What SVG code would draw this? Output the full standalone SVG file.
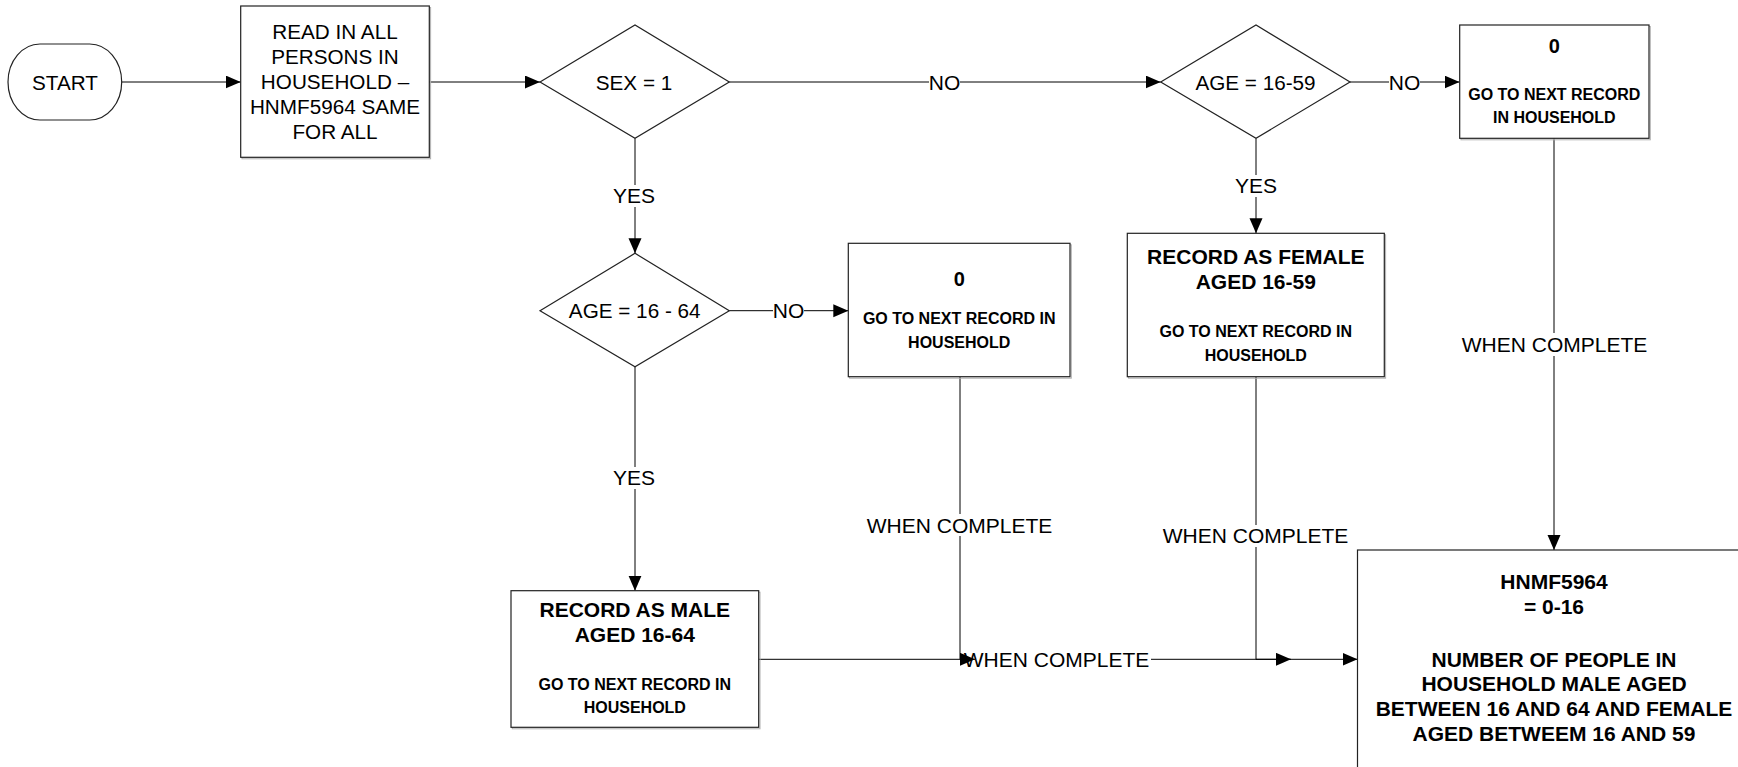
<svg xmlns="http://www.w3.org/2000/svg" width="1738" height="767" viewBox="0 0 1738 767">
<defs>
<style>
.box{fill:#fff;stroke:#222;stroke-width:1.2}
.shadow{fill:none;stroke:#b0b0b0;stroke-width:1}
.ln{fill:none;stroke:#000;stroke-width:1}
.t{font-family:"Liberation Sans",Arial,sans-serif;font-size:20.7px;fill:#000;text-anchor:middle}
.b{font-family:"Liberation Sans",Arial,sans-serif;font-weight:bold;font-size:21px;fill:#000;text-anchor:middle}
.s{font-family:"Liberation Sans",Arial,sans-serif;font-weight:bold;font-size:16px;fill:#000;text-anchor:middle}
.lbl{font-family:"Liberation Sans",Arial,sans-serif;font-size:21px;fill:#000;text-anchor:middle}
.bg{fill:#fff;stroke:none}
</style>
<marker id="arr" markerUnits="userSpaceOnUse" markerWidth="16" markerHeight="14" refX="15" refY="6.5" orient="auto">
<path d="M0,0 L15,6.5 L0,13 Z" fill="#000"/>
</marker>
</defs>
<rect width="1738" height="767" fill="#fff"/>

<g id="connectors">
<path class="ln" d="M121.7,82 H240.7" marker-end="url(#arr)"/>
<path class="ln" d="M429.3,82 H540" marker-end="url(#arr)"/>
<path class="ln" d="M729.3,82 H1160.7" marker-end="url(#arr)"/>
<rect class="bg" x="929" y="71" width="31" height="22"/>
<text class="lbl" x="944.5" y="89.5">NO</text>
<path class="ln" d="M1350,82 H1459.5" marker-end="url(#arr)"/>
<rect class="bg" x="1389" y="71" width="31" height="22"/>
<text class="lbl" x="1404.5" y="89.5">NO</text>
<path class="ln" d="M635,138.3 V253.3" marker-end="url(#arr)"/>
<rect class="bg" x="612" y="185" width="44" height="22"/>
<text class="lbl" x="634" y="203">YES</text>
<path class="ln" d="M1256,138.3 V233.3" marker-end="url(#arr)"/>
<rect class="bg" x="1234" y="175" width="44" height="22"/>
<text class="lbl" x="1256" y="193">YES</text>
<path class="ln" d="M729.3,310.7 H848.3" marker-end="url(#arr)"/>
<rect class="bg" x="773" y="300" width="31" height="22"/>
<text class="lbl" x="788.5" y="318">NO</text>
<path class="ln" d="M635,366.7 V590.7" marker-end="url(#arr)"/>
<rect class="bg" x="612" y="467" width="44" height="22"/>
<text class="lbl" x="634" y="485">YES</text>
<path class="ln" d="M1554,138.3 V550" marker-end="url(#arr)"/>
<rect class="bg" x="1461" y="333" width="187" height="23"/>
<text class="lbl" x="1554.5" y="352">WHEN COMPLETE</text>
<path class="ln" d="M758.7,659.3 H1357.5" marker-end="url(#arr)"/>
<rect class="bg" x="962" y="648" width="189" height="23"/>
<text class="lbl" x="1056.5" y="667">WHEN COMPLETE</text>
<path class="ln" d="M960,376.7 V659.3 H975" marker-end="url(#arr)"/>
<rect class="bg" x="866" y="514" width="187" height="22"/>
<text class="lbl" x="959.5" y="532.5">WHEN COMPLETE</text>
<path class="ln" d="M1256,376.7 V659.3 H1291" marker-end="url(#arr)"/>
<rect class="bg" x="1162" y="525" width="187" height="22"/>
<text class="lbl" x="1255.5" y="543">WHEN COMPLETE</text>
</g>

<g id="start">
<rect class="box" x="8" y="44" width="113.7" height="76" rx="32" ry="38"/>
<text class="t" x="65" y="89.5">START</text>
</g>

<g id="read">
<rect class="shadow" x="242" y="7.5" width="188.6" height="151.3"/>
<rect class="box" x="240.7" y="6" width="188.6" height="151.3"/>
<text class="t" x="335" y="39">READ IN ALL</text>
<text class="t" x="335" y="64">PERSONS IN</text>
<text class="t" x="335" y="88.5">HOUSEHOLD –</text>
<text class="t" x="335" y="113.5">HNMF5964 SAME</text>
<text class="t" x="335" y="138.7">FOR ALL</text>
</g>

<g id="sex">
<polygon class="box" points="540,82 635,25 729.3,82 635,138.3"/>
<text class="t" x="634" y="89.5">SEX = 1</text>
</g>

<g id="age1659">
<polygon class="box" points="1160.7,82 1256,25 1350,82 1256,138.3"/>
<text class="t" x="1255.5" y="89.5">AGE = 16-59</text>
</g>

<g id="zero-top">
<rect class="shadow" x="1461" y="26.5" width="189.3" height="113.3"/>
<rect class="box" x="1459.7" y="25" width="189.3" height="113.3"/>
<text class="b" x="1554.3" y="52.7" style="font-size:20px">0</text>
<text class="s" x="1554.3" y="100">GO TO NEXT RECORD</text>
<text class="s" x="1554.3" y="123.3">IN HOUSEHOLD</text>
</g>

<g id="age1664">
<polygon class="box" points="540,310.7 635,253.3 729.3,310.7 635,366.7"/>
<text class="t" x="634.7" y="317.5">AGE = 16 - 64</text>
</g>

<g id="zero-mid">
<rect class="shadow" x="849.6" y="244.8" width="221.7" height="133.4"/>
<rect class="box" x="848.3" y="243.3" width="221.7" height="133.4"/>
<text class="b" x="959.2" y="286" style="font-size:20px">0</text>
<text class="s" x="959.2" y="324.3">GO TO NEXT RECORD IN</text>
<text class="s" x="959.2" y="348.3">HOUSEHOLD</text>
</g>

<g id="female">
<rect class="shadow" x="1128.6" y="234.8" width="257" height="143.4"/>
<rect class="box" x="1127.3" y="233.3" width="257" height="143.4"/>
<text class="b" x="1255.8" y="264">RECORD AS FEMALE</text>
<text class="b" x="1255.8" y="289.3">AGED 16-59</text>
<text class="s" x="1255.8" y="336.7">GO TO NEXT RECORD IN</text>
<text class="s" x="1255.8" y="360.7">HOUSEHOLD</text>
</g>

<g id="male">
<rect class="shadow" x="512.3" y="592.2" width="247.7" height="136.6"/>
<rect class="box" x="511" y="590.7" width="247.7" height="136.6"/>
<text class="b" x="634.8" y="616.7">RECORD AS MALE</text>
<text class="b" x="634.8" y="641.7">AGED 16-64</text>
<text class="s" x="634.8" y="690">GO TO NEXT RECORD IN</text>
<text class="s" x="634.8" y="713.3">HOUSEHOLD</text>
</g>

<g id="result">
<rect class="box" x="1357.5" y="550" width="393" height="240"/>
<text class="b" x="1554" y="589.3">HNMF5964</text>
<text class="b" x="1554" y="614.3">= 0-16</text>
<text class="b" x="1554" y="666.7">NUMBER OF PEOPLE IN</text>
<text class="b" x="1554" y="691">HOUSEHOLD MALE AGED</text>
<text class="b" x="1554" y="716">BETWEEN 16 AND 64 AND FEMALE</text>
<text class="b" x="1554" y="741">AGED BETWEEM 16 AND 59</text>
</g>
</svg>
